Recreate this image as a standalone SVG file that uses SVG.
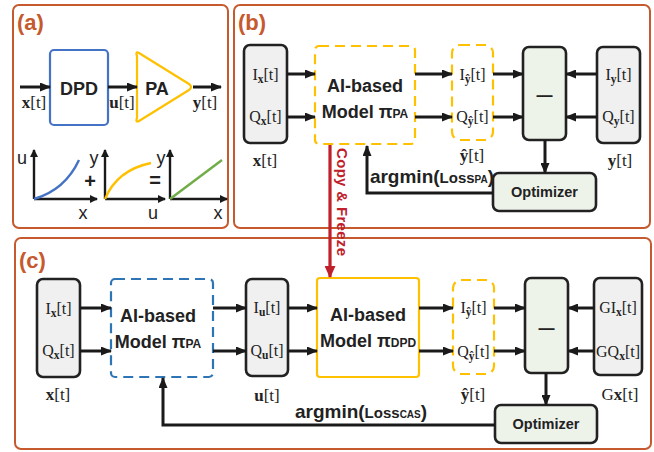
<svg xmlns="http://www.w3.org/2000/svg" width="654" height="452" viewBox="0 0 654 452">
<defs>
<style>
.panel{fill:#fff;stroke:#C65A2E;stroke-width:2}
.plab{font-family:"Liberation Sans",Arial,sans-serif;font-weight:bold;font-size:22px;fill:#C65A2E}
.gray{fill:#F0F0F0;stroke:#222;stroke-width:2.6}
.green{fill:#EEF3EA;stroke:#222;stroke-width:2.6}
.ydash{fill:#fff;stroke:#FFC000;stroke-width:2.2;stroke-dasharray:10,6}
.bdash{fill:#fff;stroke:#2E75B6;stroke-width:2.2;stroke-dasharray:10,6}
.ysolid{fill:#fff;stroke:#FFC000;stroke-width:2.2}
.serif{font-family:"Liberation Serif","Times New Roman",serif;font-size:16px;fill:#222;text-anchor:middle}
.serifL{font-family:"Liberation Serif","Times New Roman",serif;font-size:17px;fill:#222;text-anchor:middle}
.b{font-weight:bold}
.sub{font-size:11.5px;font-weight:bold}
.sans{font-family:"Liberation Sans",Arial,sans-serif;font-weight:bold;fill:#222;text-anchor:middle}
.model{font-size:18px}
.small{font-size:12px}
.ax{font-family:"Liberation Sans",Arial,sans-serif;font-size:18px;fill:#222;text-anchor:middle}
.arr{stroke:#1a1a1a;stroke-width:3;fill:none;marker-end:url(#ah)}
.axis{stroke:#1a1a1a;stroke-width:2.4;fill:none;marker-end:url(#ahs)}
</style>
<marker id="ah" markerUnits="userSpaceOnUse" markerWidth="11" markerHeight="9" refX="10" refY="4.5" orient="auto">
<path d="M0,0 L11,4.5 L0,9 z" fill="#1a1a1a"/>
</marker>
<marker id="ahs" markerUnits="userSpaceOnUse" markerWidth="8" markerHeight="8" refX="7" refY="4" orient="auto">
<path d="M0,0 L8,4 L0,8 z" fill="#1a1a1a"/>
</marker>
<marker id="ahr" markerUnits="userSpaceOnUse" markerWidth="12" markerHeight="11" refX="11" refY="5.5" orient="auto">
<path d="M0,0 L12,5.5 L0,11 z" fill="#C0202A"/>
</marker>
</defs>

<!-- panels -->
<g id="panel-a-frame"><rect class="panel" x="13" y="5" width="215" height="223" rx="6"/><text class="plab" x="17" y="30">(a)</text></g>
<g id="panel-b-frame"><rect class="panel" x="234" y="5" width="416" height="223" rx="6"/><text class="plab" x="238" y="30">(b)</text></g>
<g id="panel-c-frame"><rect class="panel" x="15" y="238" width="636" height="211" rx="6"/><text class="plab" x="19" y="268">(c)</text></g>

<!-- panel (a) -->
<g id="a-dpd"><rect x="50" y="50" width="58" height="75" rx="4" fill="#fff" stroke="#4472C4" stroke-width="2.2"/><text class="sans" x="79" y="95" font-size="18">DPD</text></g>
<g id="a-pa"><path d="M137,56 Q135,51 139,53 L189,84 Q193,87 189,90 L139,121 Q135,123 137,118 Z" fill="#fff" stroke="#FFC000" stroke-width="2.2" stroke-linejoin="round"/><text class="sans" x="157" y="95" font-size="18">PA</text></g>
<g id="a-labels">
<text class="serifL" x="34" y="108"><tspan class="b">x</tspan>[t]</text>
<text class="serifL" x="122" y="108"><tspan class="b">u</tspan>[t]</text>
<text class="serifL" x="205" y="108"><tspan class="b">y</tspan>[t]</text>
</g>
<g id="a-graphs">
<path class="axis" d="M34,199 V150"/><path class="axis" d="M34,199 H97"/>
<path d="M34,199 Q65,190 79,160" fill="none" stroke="#4472C4" stroke-width="2.4"/>
<text class="ax" x="22" y="164">u</text><text class="ax" x="83" y="219">x</text>
<text class="sans" x="90" y="188" font-size="20">+</text>
<path class="axis" d="M105,199 V150"/><path class="axis" d="M105,199 H165"/>
<path d="M105,199 Q117,170 151,163" fill="none" stroke="#FFC000" stroke-width="2.4"/>
<text class="ax" x="94" y="164">y</text><text class="ax" x="153" y="219">u</text>
<text class="sans" x="155" y="187" font-size="20">=</text>
<path class="axis" d="M170,199 V150"/><path class="axis" d="M170,199 H227"/>
<path d="M170,199 L222,160" fill="none" stroke="#70AD47" stroke-width="2.4"/>
<text class="ax" x="161" y="164">y</text><text class="ax" x="218" y="219">x</text>
</g>

<!-- panel (b) nodes -->
<g id="b-x"><rect class="gray" x="244" y="45" width="43" height="98" rx="6"/>
<text class="serif" x="265.5" y="80">I<tspan class="sub" dy="3">x</tspan><tspan dy="-3">[t]</tspan></text>
<text class="serif" x="265.5" y="122">Q<tspan class="sub" dy="3">x</tspan><tspan dy="-3">[t]</tspan></text>
<text class="serifL" x="265" y="166"><tspan class="b">x</tspan>[t]</text></g>
<g id="b-model"><rect class="ydash" x="315" y="46" width="100" height="98" rx="4"/>
<text class="sans model" x="365" y="92">AI-based</text>
<text class="sans model" x="365" y="118">Model π<tspan class="small">PA</tspan></text></g>
<g id="b-yhat"><rect class="ydash" x="452" y="45" width="41" height="95" rx="8"/>
<text class="serif" x="472.5" y="80">I<tspan class="sub" dy="3">ŷ</tspan><tspan dy="-3">[t]</tspan></text>
<text class="serif" x="472.5" y="122">Q<tspan class="sub" dy="3">ŷ</tspan><tspan dy="-3">[t]</tspan></text>
<text class="serifL" x="472" y="161"><tspan class="b">ŷ</tspan>[t]</text></g>
<g id="b-minus"><rect class="green" x="523" y="47" width="43" height="93" rx="6"/><text class="sans" x="544.5" y="101" font-size="16">—</text></g>
<g id="b-y"><rect class="gray" x="597" y="47" width="43" height="96" rx="6"/>
<text class="serif" x="618.5" y="80">I<tspan class="sub" dy="3">y</tspan><tspan dy="-3">[t]</tspan></text>
<text class="serif" x="618.5" y="122">Q<tspan class="sub" dy="3">y</tspan><tspan dy="-3">[t]</tspan></text>
<text class="serifL" x="620" y="166"><tspan class="b">y</tspan>[t]</text></g>
<g id="b-opt"><rect class="green" x="493" y="173" width="103" height="38" rx="6"/><text class="sans" x="544.5" y="197" font-size="14.5">Optimizer</text></g>

<!-- panel (c) nodes -->
<g id="c-x"><rect class="gray" x="37" y="279" width="43" height="98" rx="6"/>
<text class="serif" x="58.5" y="314">I<tspan class="sub" dy="3">x</tspan><tspan dy="-3">[t]</tspan></text>
<text class="serif" x="58.5" y="356">Q<tspan class="sub" dy="3">x</tspan><tspan dy="-3">[t]</tspan></text>
<text class="serifL" x="58" y="400"><tspan class="b">x</tspan>[t]</text></g>
<g id="c-pa"><rect class="bdash" x="111" y="279" width="102" height="98" rx="4"/>
<text class="sans model" x="158" y="322">AI-based</text>
<text class="sans model" x="158" y="348">Model π<tspan class="small">PA</tspan></text></g>
<g id="c-u"><rect class="gray" x="246" y="279" width="42" height="97" rx="6"/>
<text class="serif" x="267" y="313">I<tspan class="sub" dy="3">u</tspan><tspan dy="-3">[t]</tspan></text>
<text class="serif" x="267" y="356">Q<tspan class="sub" dy="3">u</tspan><tspan dy="-3">[t]</tspan></text>
<text class="serifL" x="267" y="401"><tspan class="b">u</tspan>[t]</text></g>
<g id="c-dpd"><rect class="ysolid" x="317" y="278" width="102" height="99" rx="3"/>
<text class="sans model" x="368" y="321">AI-based</text>
<text class="sans model" x="368" y="347">Model π<tspan class="small">DPD</tspan></text></g>
<g id="c-yhat"><rect class="ydash" x="453" y="280" width="41" height="94" rx="8"/>
<text class="serif" x="473.5" y="313">I<tspan class="sub" dy="3">ŷ</tspan><tspan dy="-3">[t]</tspan></text>
<text class="serif" x="473.5" y="357">Q<tspan class="sub" dy="3">ŷ</tspan><tspan dy="-3">[t]</tspan></text>
<text class="serifL" x="473" y="400"><tspan class="b">ŷ</tspan>[t]</text></g>
<g id="c-minus"><rect class="green" x="525" y="278" width="43" height="95" rx="6"/><text class="sans" x="546.5" y="334" font-size="16">—</text></g>
<g id="c-gx"><rect class="gray" x="594" y="278" width="48" height="97" rx="6"/>
<text class="serif" x="618" y="313">GI<tspan class="sub" dy="3">x</tspan><tspan dy="-3">[t]</tspan></text>
<text class="serif" x="618" y="357">GQ<tspan class="sub" dy="3">x</tspan><tspan dy="-3">[t]</tspan></text>
<text class="serifL" x="620" y="400">G<tspan class="b">x</tspan>[t]</text></g>
<g id="c-opt"><rect class="green" x="495" y="405" width="102" height="38" rx="6"/><text class="sans" x="546" y="429" font-size="14.5">Optimizer</text></g>

<!-- connectors -->
<g id="connectors">
<path class="arr" d="M20,87 H50"/>
<path class="arr" d="M108,87 H137"/>
<path class="arr" d="M193,87 H221"/>
<path class="arr" d="M287,74 H315"/><path class="arr" d="M287,117 H315"/>
<path class="arr" d="M415,74 H452"/><path class="arr" d="M415,117 H452"/>
<path class="arr" d="M493,74 H523"/><path class="arr" d="M493,117 H523"/>
<path class="arr" d="M597,74 H566"/><path class="arr" d="M597,117 H566"/>
<path class="arr" d="M545,140 V173"/>
<path class="arr" d="M493,193 H367 V146"/>
<path class="arr" d="M80,308 H111"/><path class="arr" d="M80,351 H111"/>
<path class="arr" d="M213,308 H246"/><path class="arr" d="M213,351 H246"/>
<path class="arr" d="M288,308 H317"/><path class="arr" d="M288,351 H317"/>
<path class="arr" d="M419,308 H453"/><path class="arr" d="M419,351 H453"/>
<path class="arr" d="M494,308 H525"/><path class="arr" d="M494,351 H525"/>
<path class="arr" d="M594,308 H568"/><path class="arr" d="M594,351 H568"/>
<path class="arr" d="M546,373 V405"/>
<path class="arr" d="M495,425 H163 V378"/>
<path d="M330,145 V277" stroke="#C0202A" stroke-width="3.2" fill="none" marker-end="url(#ahr)"/>
</g>
<g id="connector-labels">
<text class="sans" x="432" y="183" font-size="19">argmin(<tspan font-size="15">Loss</tspan><tspan font-size="10">PA</tspan>)</text>
<text class="sans" x="361" y="418" font-size="19">argmin(<tspan font-size="15">Loss</tspan><tspan font-size="10">CAS</tspan>)</text>
<text transform="translate(337,148) rotate(90)" font-family="Liberation Sans,Arial,sans-serif" font-weight="bold" font-size="15" fill="#C0202A" textLength="108" lengthAdjust="spacing">Copy &amp; Freeze</text>
</g>
</svg>
